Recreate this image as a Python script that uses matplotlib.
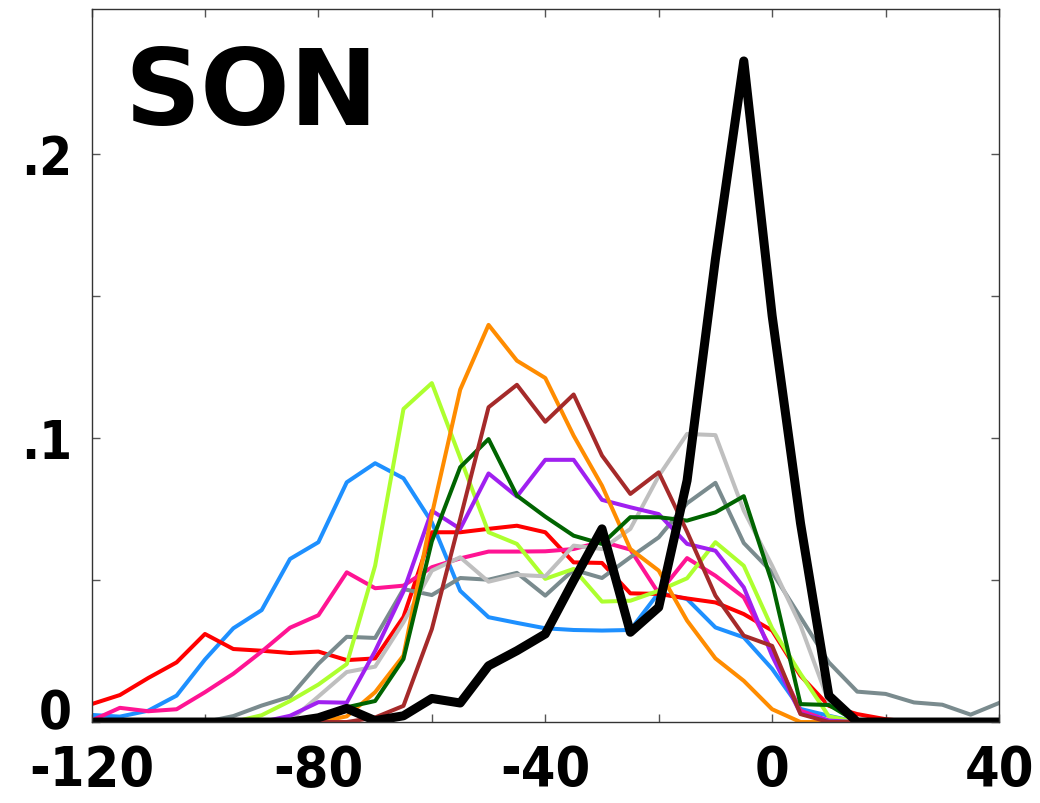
import matplotlib
matplotlib.use('Agg')
import matplotlib.pyplot as plt
import matplotlib.transforms as mtransforms

# lag (x) and frequency values at 5-unit steps
lags = [-120, -115, -110, -105, -100, -95, -90, -85, -80, -75, -70, -65, -60,
        -55, -50, -45, -40, -35, -30, -25, -20, -15, -10, -5, 0, 5, 10, 15,
        20, 25, 30, 35, 40]

blue = [0.0025, 0.0019, 0.004, 0.0093, 0.022, 0.033, 0.0394, 0.0574, 0.0633,
        0.0844, 0.0911, 0.0858, 0.0703, 0.0462, 0.0369, 0.0349, 0.033, 0.0324,
        0.0322, 0.0324, 0.0455, 0.0433, 0.0333, 0.0298, 0.0187, 0.0046, 0.0022,
        0, 0, 0, 0, 0, 0]
red = [0.0063, 0.0095, 0.0155, 0.021, 0.031, 0.0257, 0.0251, 0.0243, 0.0248,
       0.0218, 0.0224, 0.037, 0.0668, 0.0668, 0.068, 0.0691, 0.0668, 0.0562,
       0.056, 0.0453, 0.0451, 0.0435, 0.0421, 0.038, 0.0322, 0.0163, 0.0057,
       0.0028, 0.001, 0, 0, 0, 0]
pink = [0.0005, 0.005, 0.0038, 0.0045, 0.0105, 0.017, 0.0248, 0.0332, 0.0376,
        0.0527, 0.0471, 0.048, 0.0545, 0.0576, 0.060, 0.060, 0.0601, 0.0609,
        0.0635, 0.0607, 0.0453, 0.0577, 0.0515, 0.0439, 0.025, 0.004, 0.0005,
        0, 0, 0, 0, 0, 0]
gray = [0, 0, 0, 0, 0, 0.0021, 0.0058, 0.0089, 0.0205, 0.030, 0.0296, 0.0468,
        0.0447, 0.0507, 0.0501, 0.0525, 0.0445, 0.0536, 0.0507, 0.058, 0.065,
        0.077, 0.0842, 0.063, 0.0527, 0.0369, 0.021, 0.0107, 0.0099, 0.0069,
        0.0061, 0.0026, 0.0067]
lime = [0, 0, 0, 0, 0, 0, 0.0024, 0.0074, 0.0132, 0.0204, 0.055, 0.1102,
        0.1193, 0.093, 0.0668, 0.0627, 0.0504, 0.0539, 0.0424, 0.0427, 0.0462,
        0.0506, 0.0633, 0.055, 0.033, 0.017, 0.002, 0, 0, 0, 0, 0, 0]
silver = [0, 0, 0, 0, 0, 0, 0, 0.0005, 0.009, 0.0176, 0.0195, 0.0351, 0.0533,
          0.058, 0.0494, 0.0518, 0.0513, 0.0621, 0.0609, 0.068, 0.0866, 0.1014,
          0.101, 0.0744, 0.055, 0.034, 0.007, 0, 0, 0, 0, 0, 0]
purple = [0, 0, 0, 0, 0, 0, 0, 0.0022, 0.007, 0.0068, 0.025, 0.046, 0.0744,
          0.068, 0.0875, 0.0794, 0.0923, 0.0923, 0.0782, 0.0756, 0.0732, 0.0627,
          0.0603, 0.0474, 0.0233, 0.003, 0.0005, 0, 0, 0, 0, 0, 0]
orange = [0, 0, 0, 0, 0, 0, 0, 0, 0, 0.002, 0.0105, 0.0234, 0.073, 0.117,
          0.1398, 0.1272, 0.1211, 0.1008, 0.0832, 0.0609, 0.0533, 0.0357,
          0.0224, 0.0145, 0.0045, 0, 0, 0, 0, 0, 0, 0, 0]
green = [0, 0, 0, 0, 0, 0, 0, 0, 0.001, 0.0052, 0.0074, 0.0222, 0.0636, 0.0897,
         0.0996, 0.0797, 0.0723, 0.0656, 0.0627, 0.0721, 0.0721, 0.0709,
         0.0738, 0.0795, 0.049, 0.0063, 0.006, 0, 0, 0, 0, 0, 0]
brown = [0, 0, 0, 0, 0, 0, 0, 0, 0, 0, 0.0016, 0.0057, 0.0327, 0.0715, 0.1108,
         0.1187, 0.1057, 0.1153, 0.0938, 0.0803, 0.0879, 0.067, 0.0445, 0.0304,
         0.0268, 0.0028, 0, 0, 0, 0, 0, 0, 0]
black = [0, 0, 0, 0, 0, 0, 0, 0, 0.0015, 0.0048, 0.0005, 0.0022, 0.0083,
         0.0067, 0.0198, 0.0251, 0.031, 0.0498, 0.068, 0.0316, 0.0404, 0.085,
         0.163, 0.2327, 0.143, 0.070, 0.0093, 0, 0, 0, 0, 0, 0]

series = [(blue, '#1e90ff'), (red, '#ff0000'), (pink, '#ff1493'),
          (gray, '#7a8b8e'), (lime, '#adff2f'), (silver, '#bfbfbf'),
          (purple, '#a020f0'), (orange, '#ff8c00'), (green, '#006400'),
          (brown, '#a52a2a')]

fig = plt.figure(figsize=(10.4, 8.04), dpi=100)
ax = fig.add_axes([0.088, 0.1007, 0.8726, 0.8869])

for vals, col in series:
    ax.plot(lags, vals, color=col, linewidth=2.9, solid_joinstyle='round')
ax.plot(lags, black, color='black', linewidth=6.5, solid_joinstyle='round')

ax.set_xlim(-120, 40)
ax.set_ylim(0, 0.251)

xt = [-120, -100, -80, -60, -40, -20, 0, 20, 40]
ax.set_xticks(xt)
ax.set_xticklabels(['-120', '', '-80', '', '-40', '', '0', '', '40'])
ax.set_yticks([0, 0.05, 0.1, 0.15, 0.2])
ax.set_yticklabels(['0', '', '.1', '', '.2'])

ax.tick_params(direction='in', length=6, width=1, color='#555555',
               top=True, right=True)
ax.tick_params(axis='x', pad=15)
ax.tick_params(axis='y', pad=14)
for lab in ax.get_xticklabels():
    lab.set_fontsize(40)
    lab.set_fontweight('bold')
    lab.set_fontstretch('condensed')
for lab in ax.get_yticklabels():
    lab.set_fontsize(38)
    lab.set_fontweight('bold')
    lab.set_fontstretch('condensed')

# the zero label sits a little above the axis line in the reference
ylabs = ax.get_yticklabels()
ylabs[0].set_transform(ylabs[0].get_transform() +
                       mtransforms.ScaledTranslation(0, 10 / 72, fig.dpi_scale_trans))

for s in ax.spines.values():
    s.set_linewidth(1.0)
    s.set_color('#333333')

ax.text(0.036, 0.839, 'SON', transform=ax.transAxes, fontsize=76,
        fontweight='heavy', ha='left', va='baseline')

fig.savefig('out.png', dpi=100)
